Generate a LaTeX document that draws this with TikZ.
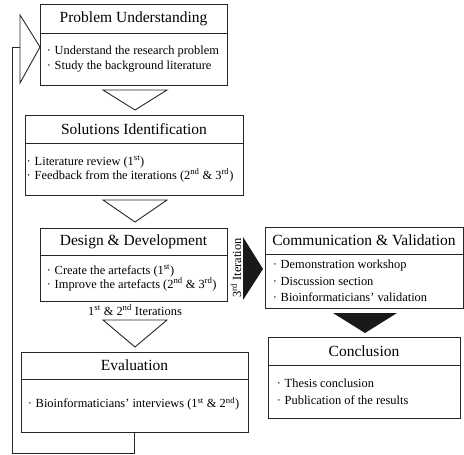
\documentclass[tikz,border=0pt]{standalone}
\usepackage{fontspec}
\setmainfont{Liberation Serif}
\usetikzlibrary{calc}
\newcommand\bul{\makebox[8pt][l]{·}}
\newcommand\sups[1]{\textsuperscript{#1}}
\begin{document}
\begin{tikzpicture}[x=1pt,y=-1pt,
  hd/.style={draw=black!85, line width=0.9pt, inner sep=0pt, font=\fontsize{15.5}{18}\selectfont},
  bd/.style={draw=black!85, line width=0.9pt, inner sep=0pt},
  tx/.style={inner sep=0pt, align=left, anchor=west},
  hollow/.style={draw=black!85, line width=0.9pt, fill=white, line join=miter},
  solidarrow/.style={fill=black!90, draw=none},
  link/.style={draw=black!85, line width=0.9pt},
  lbl/.style={inner sep=0pt, font=\fontsize{12.4}{14}\selectfont}]
\useasboundingbox (0,0) rectangle (464,455);

% Box 1
\node[hd, minimum width=187pt, minimum height=29pt] (h1) at (133.5,18.5) {Problem Understanding};
\node[bd, minimum width=187pt, minimum height=52pt] (b1) at (133.5,59) {};
\node[tx, font=\fontsize{12.4}{15}\selectfont] (t1) at ($(b1.west)+(7,0)$)
  {\bul Understand the research problem\\\bul Study the background literature};

% Box 2
\node[hd, minimum width=218pt, minimum height=28pt] (h2) at (134,129) {Solutions Identification};
\node[bd, minimum width=218pt, minimum height=52pt] (b2) at (134,169) {};
\node[tx, font=\fontsize{12.4}{14}\selectfont] (t2) at ($(b2.west)+(2,0)$)
  {\bul Literature review (1\sups{st})\\\bul Feedback from the iterations (2\sups{nd} \& 3\sups{rd})};

% Box 3
\node[hd, minimum width=187pt, minimum height=27pt] (h3) at (133.5,241.5) {Design \& Development};
\node[bd, minimum width=187pt, minimum height=46pt] (b3) at (133.5,278) {};
\node[tx, font=\fontsize{12.4}{13}\selectfont] (t3) at ($(b3.west)+(7,0)$)
  {\bul Create the artefacts (1\sups{st})\\\bul Improve the artefacts (2\sups{nd} \& 3\sups{rd})};

% Box 4
\node[hd, minimum width=227pt, minimum height=27pt] (h4) at (134.5,365.5) {Evaluation};
\node[bd, minimum width=227pt, minimum height=53pt] (b4) at (134.5,405.5) {};
\node[tx, font=\fontsize{12.4}{15}\selectfont] (t4) at ($(b4.west)+(7,-2)$)
  {\bul Bioinformaticians’ interviews (1\sups{st} \& 2\sups{nd})};

% Box 5
\node[hd, minimum width=198pt, minimum height=27pt] (h5) at (364,240.5) {Communication \& Validation};
\node[bd, minimum width=198pt, minimum height=54pt] (b5) at (364,281) {};
\node[tx, font=\fontsize{12.4}{16.5}\selectfont] (t5) at ($(b5.west)+(8,0)$)
  {\bul Demonstration workshop\\\bul Discussion section\\\bul Bioinformaticians’ validation};

% Box 6
\node[hd, minimum width=192pt, minimum height=28pt] (h6) at (364,351) {Conclusion};
\node[bd, minimum width=192pt, minimum height=53pt] (b6) at (364,391.5) {};
\node[tx, font=\fontsize{12.4}{17}\selectfont] (t6) at ($(b6.west)+(9,0)$)
  {\bul Thesis conclusion\\\bul Publication of the results};

% Labels
\node[lbl] (it12) at (135,310) {1\sups{st} \& 2\sups{nd} Iterations};
\node[lbl, rotate=90] (it3) at (236,268) {3\sups{rd} Iteration};

% Hollow block arrows
\draw[hollow] (20,15) -- (40,47) -- (20,83) -- cycle;
\draw[hollow] (103,90) -- (167,90) -- (135,110) -- cycle;
\draw[hollow] (103,200) -- (167,200) -- (135,222) -- cycle;
\draw[hollow] (103,320) -- (167,320) -- (135,347) -- cycle;

% Solid block arrows
\fill[solidarrow] (243,237) -- (263,269) -- (243,300) -- cycle;
\fill[solidarrow] (333,313) -- (397,313) -- (365,333) -- cycle;

% Feedback connector
\coordinate (fbin) at (20,47);
\coordinate (fbc) at (12,453);
\draw[link] (b4.south) |- (fbc) |- (fbin);
\end{tikzpicture}
\end{document}
